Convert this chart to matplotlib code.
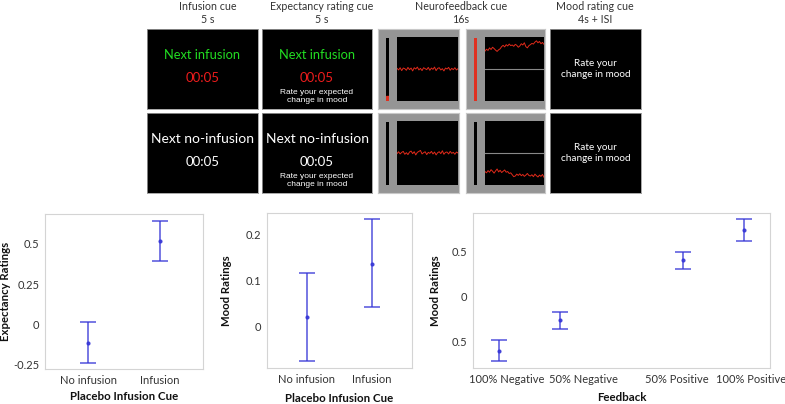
import matplotlib
matplotlib.use("Agg")
import matplotlib.pyplot as plt

# --- donnees des graphiques du bas ---
cue_labels = ["No infusion", "Infusion"]
expect_mean = [-0.112, 0.519]
expect_low = [-0.236, 0.395]
expect_high = [0.014, 0.640]

mood_cue_mean = [0.020, 0.136]
mood_cue_low = [-0.076, 0.041]
mood_cue_high = [0.116, 0.232]

fb_labels = ["100% Negative", "50% Negative", "50% Positive", "100% Positive"]
fb_x = [-1, -0.5, 0.5, 1]
fb_mean = [-0.608, -0.261, 0.404, 0.743]
fb_low = [-0.724, -0.361, 0.310, 0.623]
fb_high = [-0.489, -0.171, 0.500, 0.862]
# les etiquettes ne sont pas centrees sur les points dans l'original
fb_label_pos = [-0.938, -0.308, 0.449, 1.058]

# --- panneaux du haut ---
headers = [("Infusion cue\n5 s", 208), ("Expectancy rating cue\n5 s", 322),
           ("Neurofeedback cue\n16s", 461), ("Mood rating cue\n4s + ISI", 595)]

# traces du signal neurofeedback (valeurs lues a l'oeil)
trace_flat = [0.02, -0.03, 0.04, -0.05, 0.03, 0.01, -0.04, 0.05, -0.02, 0.03,
              -0.06, 0.04, 0.00, 0.06, -0.03, 0.02, -0.05, 0.04, 0.01, -0.02,
              0.05, -0.04, 0.03, -0.01, 0.06, -0.05, 0.02, 0.04, -0.03, 0.01,
              -0.06, 0.03, 0.00, 0.05, -0.04, 0.02, -0.02, 0.04, -0.03, 0.01]
trace_flat2 = [-0.02, 0.04, -0.03, 0.02, 0.05, -0.04, 0.01, -0.05, 0.03, 0.06,
               -0.02, 0.04, -0.06, 0.02, 0.05, 0.08, -0.03, 0.01, 0.04, -0.05,
               0.02, -0.01, 0.05, -0.03, 0.03, -0.06, 0.01, 0.04, -0.02, 0.07,
               -0.04, 0.02, 0.03, -0.03, 0.05, -0.01, 0.02, -0.04, 0.03, 0.00]
trace_high = [0.56, 0.62, 0.58, 0.66, 0.61, 0.68, 0.64, 0.59, 0.55, 0.60,
              0.63, 0.70, 0.74, 0.69, 0.76, 0.72, 0.78, 0.73, 0.75, 0.71,
              0.77, 0.74, 0.68, 0.72, 0.79, 0.75, 0.82, 0.70, 0.66, 0.73,
              0.76, 0.80, 0.78, 0.84, 0.88, 0.82, 0.86, 0.79, 0.83, 0.77]
trace_low = [-0.58, -0.62, -0.55, -0.60, -0.52, -0.57, -0.63, -0.56, -0.50, -0.59,
             -0.54, -0.61, -0.57, -0.53, -0.60, -0.58, -0.64, -0.62, -0.68, -0.74,
             -0.72, -0.66, -0.70, -0.65, -0.71, -0.67, -0.73, -0.69, -0.64, -0.70,
             -0.72, -0.68, -0.74, -0.66, -0.71, -0.75, -0.69, -0.73, -0.67, -0.76]

W, H = 785, 404
BLEU = "#3434d6"
GRIS = "#d4d4d4"

fig = plt.figure(figsize=(W / 100, H / 100), dpi=100)
plt.rcParams["font.family"] = ["Lato", "DejaVu Sans"]


def boite(x0, y0, x1, y1):
    # axes a partir de coordonnees pixel (origine en haut a gauche)
    return fig.add_axes([x0 / W, 1 - y1 / H, (x1 - x0) / W, (y1 - y0) / H])


def panneau_noir(x0, y0, x1, y1, lignes):
    ax = boite(x0, y0, x1, y1)
    ax.set_facecolor("black")
    ax.set_xticks([])
    ax.set_yticks([])
    for s in ax.spines.values():
        s.set_color("#999999")
        s.set_linewidth(0.6)
    for txt, yy, col, fs, fam in lignes:
        ax.text(0.5, yy, txt, color=col, fontsize=fs, ha="center", va="center",
                family=fam, linespacing=1.25, transform=ax.transAxes)
    return ax


def panneau_nf(x0, y0, x1, y1, trace, barre_rouge, ligne_zero):
    fond = boite(x0, y0, x1, y1)
    fond.set_facecolor("#959595")
    fond.set_xticks([])
    fond.set_yticks([])
    for s in fond.spines.values():
        s.set_color("#c8c8c8")
    # barre laterale
    b = boite(x0 + 8, y0 + 9, x0 + 11, y1 - 8)
    b.set_facecolor("black")
    b.set_xticks([])
    b.set_yticks([])
    b.set_ylim(0, 1)
    if barre_rouge == "full":
        b.set_facecolor("#e03020")
    elif barre_rouge == "low":
        b.axhspan(0, 0.08, color="#e03020")
    for s in b.spines.values():
        s.set_visible(False)
    # zone de trace
    p = boite(x0 + 19, y0 + 8, x1 - 1, y1 - 8)
    p.set_facecolor("black")
    p.set_xticks([])
    p.set_yticks([])
    p.set_ylim(-1, 1)
    p.set_xlim(0, len(trace) - 1)
    for s in p.spines.values():
        s.set_visible(False)
    if ligne_zero:
        p.axhline(0, color="#888888", lw=0.8)
    p.plot(range(len(trace)), trace, color="#e02a1a", lw=0.7)


for txt, xc in headers:
    fig.text(xc / W, 1 - 13 / H, txt, ha="center", va="center", fontsize=7.7,
             color="#333333", linespacing=1.15)

vert = "#22dd22"
rouge = "#ee1c1c"
blanc = "white"
petit = ["Liberation Sans"]

panneau_noir(147, 29, 258, 109, [("Next infusion", 0.68, vert, 9.3, ["Lato"]),
                                 ("00:05", 0.39, rouge, 9.5, ["Lato"])])
panneau_noir(262, 29, 372, 109, [("Next infusion", 0.68, vert, 9.3, ["Lato"]),
                                 ("00:05", 0.39, rouge, 9.5, ["Lato"]),
                                 ("Rate your expected\nchange in mood", 0.16, blanc, 6.0, petit)])
panneau_noir(147, 113, 258, 193, [("Next no-infusion", 0.68, blanc, 10, ["Lato"]),
                                  ("00:05", 0.39, blanc, 9.5, ["Lato"])])
panneau_noir(262, 113, 372, 193, [("Next no-infusion", 0.68, blanc, 10, ["Lato"]),
                                  ("00:05", 0.39, blanc, 9.5, ["Lato"]),
                                  ("Rate your expected\nchange in mood", 0.16, blanc, 6.0, petit)])
panneau_noir(550, 29, 641, 109, [("Rate your\nchange in mood", 0.5, blanc, 7.2, ["Lato"])])
panneau_noir(550, 113, 641, 193, [("Rate your\nchange in mood", 0.5, blanc, 7.2, ["Lato"])])

panneau_nf(378, 29, 459, 109, trace_flat, "low", False)
panneau_nf(466, 29, 545, 109, trace_high, "full", True)
panneau_nf(378, 113, 459, 193, trace_flat2, None, False)
panneau_nf(466, 113, 545, 193, trace_low, None, True)


# --- graphiques du bas ---
def style_axe(ax):
    for s in ax.spines.values():
        s.set_color(GRIS)
        s.set_linewidth(0.8)
    ax.tick_params(length=0, labelsize=8, labelcolor="#333333", pad=4)


def barres(ax, x, moy, bas, haut):
    err = [[m - b for m, b in zip(moy, bas)], [h - m for m, h in zip(moy, haut)]]
    ax.errorbar(x, moy, yerr=err, fmt="o", ms=2, color=BLEU, ecolor=BLEU,
                elinewidth=1.1, capsize=6, capthick=1.1, alpha=0.85)


def etiquettes(ax, ylab, x_droite, xlab, y_haut):
    # positions des titres d'axes en pixels de la figure
    box = ax.get_position()
    x0, x1 = box.x0 * W, box.x1 * W
    ytop, ybot = (1 - box.y1) * H, (1 - box.y0) * H
    ax.set_ylabel(ylab, fontsize=8.2, fontweight="bold", color="#111111")
    ax.yaxis.set_label_coords((x_droite - x0) / (x1 - x0), 0.5)
    ax.set_xlabel(xlab, fontsize=8.3, fontweight="bold", color="#111111")
    ax.xaxis.set_label_coords(0.5, -(y_haut - ybot) / (ybot - ytop))


ax1 = boite(45, 214, 203, 369)
barres(ax1, [1, 2], expect_mean, expect_low, expect_high)
ax1.set_xlim(0.39, 2.61)
ax1.set_ylim(-0.275, 0.685)
ax1.set_xticks([1, 2])
ax1.set_xticklabels(cue_labels)
ax1.set_yticks([-0.25, 0, 0.25, 0.5])
ax1.set_yticklabels(["-0.25", "0", "0.25", "0.5"])
style_axe(ax1)
etiquettes(ax1, "Expectancy Ratings", 11, "Placebo Infusion Cue", 391)

ax2 = boite(267, 213, 412, 368)
barres(ax2, [1, 2], mood_cue_mean, mood_cue_low, mood_cue_high)
ax2.set_xlim(0.39, 2.61)
ax2.set_ylim(-0.091, 0.246)
ax2.set_xticks([1, 2])
ax2.set_xticklabels(cue_labels)
ax2.set_yticks([0, 0.1, 0.2])
ax2.set_yticklabels(["0", "0.1", "0.2"])
style_axe(ax2)
etiquettes(ax2, "Mood Ratings", 232, "Placebo Infusion Cue", 393)

ax3 = boite(473, 213, 770, 368)
barres(ax3, fb_x, fb_mean, fb_low, fb_high)
ax3.set_xlim(-1.21, 1.21)
ax3.set_ylim(-0.802, 0.933)
ax3.set_xticks(fb_label_pos)
ax3.set_xticklabels(fb_labels)
ax3.set_yticks([-0.5, 0, 0.5])
ax3.set_yticklabels(["0.5", "0", "0.5"])
style_axe(ax3)
etiquettes(ax3, "Mood Ratings", 441, "Feedback", 392)

fig.savefig("out.png", dpi=100)
